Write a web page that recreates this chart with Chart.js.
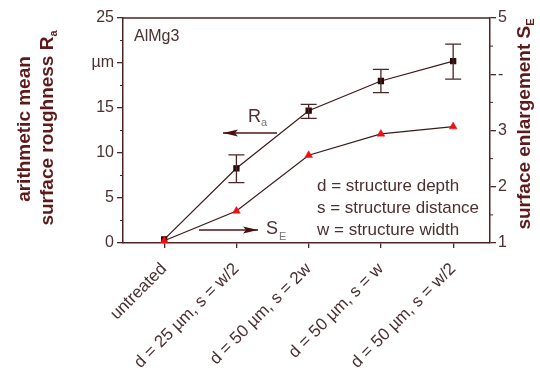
<!DOCTYPE html>
<html><head><meta charset="utf-8">
<script src="https://cdn.jsdelivr.net/npm/chart.js@4/dist/chart.umd.min.js"></script>
<style>html,body{margin:0;padding:0;background:#fff}#wrap{width:540px;height:373px}</style>
</head><body><div id="wrap"><canvas id="c" width="540" height="373"></canvas></div>
<script>
const categories = ['untreated', 'd = 25 µm, s = w/2', 'd = 50 µm, s = 2w', 'd = 50 µm, s = w', 'd = 50 µm, s = w/2'];
const raValues = [0.4, 8.3, 14.7, 18.0, 20.2];
const raErrLow = [0.4, 6.7, 13.85, 16.7, 18.2];
const raErrHigh = [0.4, 9.8, 15.4, 19.3, 22.1];
const seValues = [1.04, 1.57, 2.56, 2.94, 3.07];
const leftTickLabels = ['0', '5', '10', '15', 'µm', '25'];
const rightTickLabels = ['1', '2', '3', '-', '5'];

const AX = '#4a2626';
const TXT = '#4a3030';
const TITLE = '#5e1a1a';
const FONT = '"Liberation Sans", Arial, sans-serif';

const custom = {
  id: 'custom',
  afterDatasetsDraw(chart) {
    const ctx = chart.ctx, a = chart.chartArea;
    const x = chart.scales.x, y = chart.scales.y, y2 = chart.scales.y2;
    ctx.save();
    ctx.strokeStyle = AX; ctx.lineWidth = 1.5;
    ctx.beginPath(); ctx.moveTo(a.left, a.top); ctx.lineTo(a.right, a.top); ctx.stroke();
    ctx.lineWidth = 1;
    for (let v = 2.5; v < 25; v += 5) {
      const py = y.getPixelForValue(v);
      ctx.beginPath(); ctx.moveTo(a.left - 3, py); ctx.lineTo(a.left, py); ctx.stroke();
    }
    for (let v = 1.5; v < 5; v += 1) {
      const py = y2.getPixelForValue(v);
      ctx.beginPath(); ctx.moveTo(a.right, py); ctx.lineTo(a.right + 3, py); ctx.stroke();
    }
    ctx.strokeStyle = AX; ctx.lineWidth = 1.3;
    raValues.forEach((v, i) => {
      if (raErrHigh[i] - raErrLow[i] < 0.5) return;
      const px = x.getPixelForValue(i);
      const pl = y.getPixelForValue(raErrLow[i]), ph = y.getPixelForValue(raErrHigh[i]);
      ctx.beginPath();
      ctx.moveTo(px, pl); ctx.lineTo(px, ph);
      ctx.moveTo(px - 8, pl); ctx.lineTo(px + 8, pl);
      ctx.moveTo(px - 8, ph); ctx.lineTo(px + 8, ph);
      ctx.stroke();
    });
    function arrow(x1, x2, yy) {
      ctx.strokeStyle = '#4a1818'; ctx.fillStyle = '#4a1010'; ctx.lineWidth = 1.3;
      ctx.beginPath(); ctx.moveTo(x1, yy); ctx.lineTo(x2, yy); ctx.stroke();
      const dir = Math.sign(x2 - x1);
      ctx.beginPath();
      ctx.moveTo(x2, yy);
      ctx.lineTo(x2 - dir * 15, yy - 3.5);
      ctx.lineTo(x2 - dir * 12, yy);
      ctx.lineTo(x2 - dir * 15, yy + 3.5);
      ctx.closePath(); ctx.fill();
    }
    arrow(277, 223, 133);
    arrow(199, 258, 230);
    ctx.fillStyle = TXT; ctx.textBaseline = 'middle'; ctx.textAlign = 'left';
    ctx.font = '16px ' + FONT;
    ctx.fillText('AlMg3', 134, 37);
    ctx.font = '17px ' + FONT;
    ctx.fillText('d = structure depth', 317, 186);
    ctx.fillText('s = structure distance', 317, 208);
    ctx.fillText('w = structure width', 317, 230);
    ctx.font = '18px ' + FONT;
    ctx.fillText('R', 248, 117);
    ctx.fillText('S', 266, 229);
    ctx.font = '11px ' + FONT;
    ctx.fillStyle = '#777';
    ctx.fillText('a', 261, 123);
    ctx.fillText('E', 279, 237);
    ctx.fillStyle = TITLE;
    function vtext(parts, cx, cy) {
      ctx.save(); ctx.translate(cx, cy); ctx.rotate(-Math.PI / 2);
      let w = 0;
      parts.forEach(p => { ctx.font = (p.sub ? 'bold 11px ' : 'bold 19px ') + FONT; w += ctx.measureText(p.t).width; });
      let xx = -w / 2;
      ctx.textAlign = 'left';
      parts.forEach(p => {
        ctx.font = (p.sub ? 'bold 11px ' : 'bold 19px ') + FONT;
        ctx.fillText(p.t, xx, p.sub ? 6 : 0);
        xx += ctx.measureText(p.t).width;
      });
      ctx.restore();
    }
    vtext([{t: 'arithmetic mean'}], 25, 129);
    vtext([{t: 'surface roughness R'}, {t: 'a', sub: true}], 48, 128);
    vtext([{t: 'surface enlargement S'}, {t: 'E', sub: true}], 525, 124);
    ctx.restore();
  }
};

new Chart(document.getElementById('c'), {
  type: 'scatter',
  data: {
    datasets: [
      {
        label: 'SE', yAxisID: 'y2', showLine: true,
        data: seValues.map((v, i) => ({x: i, y: v})),
        borderColor: '#3a1a1a', borderWidth: 1.2,
        pointStyle: 'triangle', pointRadius: 4.5,
        pointBackgroundColor: '#ee1111', pointBorderColor: '#ee1111', pointBorderWidth: 0.5,
        order: 1
      },
      {
        label: 'Ra', yAxisID: 'y', showLine: true,
        data: raValues.map((v, i) => ({x: i, y: v})),
        borderColor: '#3a1a1a', borderWidth: 1.2,
        pointStyle: 'rect', pointRadius: 3.6,
        pointBackgroundColor: '#2a0808', pointBorderColor: '#2a0808',
        order: 2
      }
    ]
  },
  options: {
    responsive: false, animation: false,
    layout: {padding: {top: 18, left: 0, right: 0, bottom: 0}},
    plugins: {legend: {display: false}, tooltip: {enabled: false}},
    scales: {
      x: {
        type: 'linear', min: -0.57, max: 4.51,
        afterBuildTicks: s => { s.ticks = categories.map((c, i) => ({value: i})); },
        afterFit: s => { s.height = 130; },
        ticks: {
          callback: v => categories[v] ?? '',
          maxRotation: 45, minRotation: 45, autoSkip: false,
          color: TXT, font: {family: FONT, size: 17}, padding: 11
        },
        grid: {drawOnChartArea: false, tickLength: 5, color: AX, lineWidth: 1.3},
        border: {color: AX, width: 1.5}
      },
      y: {
        position: 'left', min: 0, max: 25,
        afterBuildTicks: s => { s.ticks = leftTickLabels.map((t, i) => ({value: i * 5})); },
        afterFit: s => { s.width = 123; },
        ticks: {callback: (v, i) => leftTickLabels[i], color: TXT, font: {family: FONT, size: 16}, padding: 3},
        grid: {drawOnChartArea: false, tickLength: 6, color: AX, lineWidth: 1.3},
        border: {color: AX, width: 1.5}
      },
      y2: {
        position: 'right', min: 1, max: 5,
        afterBuildTicks: s => { s.ticks = rightTickLabels.map((t, i) => ({value: i + 1})); },
        afterFit: s => { s.width = 50; },
        ticks: {callback: (v, i) => rightTickLabels[i], color: TXT, font: {family: FONT, size: 16}, padding: 2},
        grid: {drawOnChartArea: false, tickLength: 6, color: AX, lineWidth: 1.3},
        border: {color: AX, width: 1.5}
      }
    }
  },
  plugins: [custom]
});
</script></body></html>
